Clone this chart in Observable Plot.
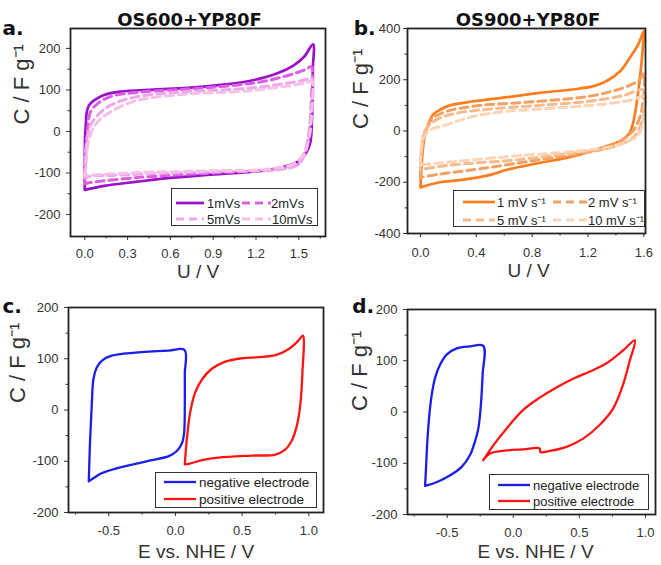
<!DOCTYPE html>
<html><head><meta charset="utf-8">
<script src="https://cdn.jsdelivr.net/npm/d3@7"></script>
<script src="https://cdn.jsdelivr.net/npm/@observablehq/plot@0.6"></script>
<style>
html,body{margin:0;padding:0;background:#fff;}
#root{position:relative;width:661px;height:565px;overflow:hidden;font-family:"Liberation Sans",Arial,sans-serif;}
.panel{position:absolute;}
.legend{position:absolute;border:1.5px solid #333;background:#fff;box-sizing:border-box;}
.li{position:absolute;height:16px;display:flex;align-items:center;white-space:nowrap;font-size:13px;color:#222;}
.li svg{position:absolute;left:0;top:4px;overflow:visible;}
</style></head><body><div id="root"></div>
<script>
// ---------- DATA ----------
// Panel a: OS600+YP80F, U (V) vs C (F/g)
const a1 = [[0,-141],[0,-60],[0.002,-17],[0.008,20],[0.014,47],[0.03,63],[0.065,75],[0.135,88],[0.25,96],[0.486,101],[0.72,105],[0.953,112],[1.187,124],[1.35,140],[1.467,160],[1.537,180],[1.6,210],
  [1.598,150],[1.596,88],[1.59,10],[1.579,-29],[1.549,-53],[1.49,-73],[1.397,-85],[1.3,-92],[1.07,-100],[0.836,-105],[0.6,-112],[0.369,-121],[0.135,-131],[0,-141]];
const a2 = [[0,-126],[0.005,-60],[0.02,7],[0.04,47],[0.09,67],[0.18,84],[0.37,94],[0.72,102],[1.07,112],[1.3,124],[1.54,148],[1.59,156],
  [1.59,90],[1.575,7],[1.55,-41],[1.52,-66],[1.49,-81],[1.4,-88],[1.3,-93],[0.836,-101],[0.369,-111],[0.04,-123],[0,-126]];
const a5 = [[0,-112],[0.01,-33],[0.04,15],[0.09,39],[0.18,63],[0.37,84],[0.72,96],[1.07,102],[1.3,110],[1.54,124],[1.59,129],
  [1.588,47],[1.57,-10],[1.54,-57],[1.49,-81],[1.4,-90],[1.3,-94],[1.07,-96],[0.6,-100],[0.25,-105],[0.04,-108],[0,-112]];
const a10 = [[0,-106],[0.007,-89],[0.03,-17],[0.09,23],[0.2,51],[0.37,75],[0.72,90],[1.07,96],[1.3,104],[1.54,116],[1.59,120],
  [1.59,47],[1.575,-10],[1.54,-49],[1.47,-77],[1.3,-90],[0.836,-95],[0.369,-99],[0.04,-105],[0,-106]];
const aNames = ["1mVs","2mVs","5mVs","10mVs"];

// Panel b: OS900+YP80F
const b1 = [[0,-220],[0.007,-145],[0.024,-40],[0.055,25],[0.09,64],[0.14,83],[0.21,100],[0.38,116],[0.62,132],[0.85,149],[1.09,162],[1.24,175],[1.33,194],[1.43,233],[1.5,286],[1.56,338],[1.6,390],
  [1.595,338],[1.572,207],[1.547,103],[1.52,25],[1.49,-14],[1.43,-40],[1.33,-60],[1.09,-99],[0.85,-125],[0.62,-151],[0.5,-171],[0.38,-184],[0.26,-193],[0.14,-200],[0,-220]];
const b2 = [[0,-181],[0.005,-100],[0.02,-40],[0.043,12],[0.09,51],[0.19,77],[0.38,97],[0.85,116],[1.21,136],[1.45,168],[1.57,200],[1.6,225],
  [1.6,140],[1.57,51],[1.52,-1],[1.43,-40],[1.33,-67],[1.09,-93],[0.85,-112],[0.62,-132],[0.38,-151],[0.14,-168],[0,-181]];
const b5 = [[0,-151],[0.01,-60],[0.03,0],[0.067,25],[0.14,51],[0.26,70],[0.5,86],[0.85,100],[1.21,116],[1.45,138],[1.6,160],
  [1.6,77],[1.57,12],[1.52,-27],[1.43,-53],[1.33,-69],[1.09,-86],[0.85,-103],[0.62,-116],[0.38,-125],[0.14,-138],[0,-151]];
const b10 = [[0,-132],[0.01,-50],[0.055,-1],[0.19,25],[0.38,57],[0.62,77],[0.97,90],[1.33,106],[1.52,122],[1.6,135],
  [1.6,64],[1.585,12],[1.55,-21],[1.45,-47],[1.33,-64],[1.09,-80],[0.74,-95],[0.38,-112],[0.14,-125],[0,-132]];
const bNames = ["1 mV s\u207B\u00B9","2 mV s\u207B\u00B9","5 mV s\u207B\u00B9","10 mV s\u207B\u00B9"];

// Panel c: E vs NHE
const cNeg = [[-0.65,-139],[-0.64,-58],[-0.628,8],[-0.615,60],[-0.59,83],[-0.553,96],[-0.478,106],[-0.3,112],[-0.05,116],[0.068,117],
  [0.07,70],[0.07,8],[0.065,-44],[0.05,-64],[0.01,-80],[-0.05,-90],[-0.18,-98],[-0.3,-105],[-0.43,-113],[-0.55,-123],[-0.615,-133],[-0.65,-139]];
const cPos = [[0.07,-106],[0.085,-58],[0.11,-5],[0.1475,34],[0.2,60],[0.27,80],[0.37,94],[0.5,101],[0.62,103],[0.75,107],[0.85,119],[0.92,135],[0.955,145],
  [0.952,73],[0.935,8],[0.91,-31],[0.87,-61],[0.82,-78],[0.75,-87],[0.57,-89],[0.32,-93],[0.2,-98],[0.1,-105],[0.07,-106]];
// Panel d
const dNeg = [[-0.667,-144],[-0.66,-110],[-0.65,-58],[-0.635,-6],[-0.617,33],[-0.592,66],[-0.554,92],[-0.504,112],[-0.428,124],[-0.327,128],[-0.227,129],
  [-0.232,73],[-0.247,7],[-0.264,-32],[-0.29,-58],[-0.327,-84],[-0.39,-107],[-0.48,-124],[-0.58,-137],[-0.667,-144]];
const dPos = [[-0.227,-94],[-0.151,-65],[-0.05,-32],[0.0756,4],[0.2,28],[0.327,48],[0.453,65],[0.58,79],[0.705,95],[0.83,120],[0.92,140],
  [0.88,99],[0.83,53],[0.756,7],[0.655,-25],[0.529,-52],[0.403,-68],[0.277,-76],[0.205,-78],[0.2,-71],[0.0756,-73],[-0.05,-75],[-0.176,-81],[-0.227,-94]];
const elecNames = ["negative electrode","positive electrode"];

// Ticks
const aXMajor = [0,0.3,0.6,0.9,1.2,1.5], aXMinor = [0.15,0.45,0.75,1.05,1.35,1.65];
const aYMajor = [-200,-100,0,100,200], aYMinor = [-150,-50,50,150];
const bXMajor = [0,0.4,0.8,1.2,1.6], bXMinor = [0.2,0.6,1.0,1.4];
const bYMajor = [-400,-200,0,200,400], bYMinor = [-300,-100,100,300];
const cXMajor = [-0.5,0,0.5,1.0], cXMinor = [-0.75,-0.25,0.25,0.75];
const cYMajor = [-200,-100,0,100,200], cYMinor = [-150,-50,50,150];

// Texts
const titles = ["OS600+YP80F","OS900+YP80F"];
const letters = ["a.","b.","c.","d."];
const yTitle = "C / F g\u207B\u00B9";
const xTitles = ["U / V","E vs. NHE / V"];

// ---------- RENDER ----------
const root = d3.select("#root");
const fx = d => d.toFixed(1);
const fy = d => String(d);

function panel(cfg) {
  const marks = [
    Plot.axisX({ticks: cfg.xMajor, tickSize: 4, tickPadding: cfg.xPad, tickFormat: fx, label: null, fontSize: 13}),
    Plot.axisX({ticks: cfg.xMinor, tickSize: 2.5, tickFormat: () => "", label: null}),
    Plot.axisY({ticks: cfg.yMajor, tickSize: 4, tickPadding: cfg.yPad, tickFormat: fy, label: null, fontSize: 13}),
    Plot.axisY({ticks: cfg.yMinor, tickSize: 2.5, tickFormat: () => "", label: null}),
  ];
  cfg.series.forEach(s => {
    marks.push(Plot.line(s.data, {x: d => d[0], y: d => d[1], stroke: s.color, strokeWidth: s.width,
      strokeDasharray: s.dash || null, curve: "catmull-rom", strokeLinejoin: "round"}));
  });
  marks.push(Plot.frame({stroke: "#222", strokeWidth: 1.8}));
  if (cfg.title) marks.push(Plot.text([cfg.title], {text: d => d, frameAnchor: "top", dx: cfg.tdx, dy: -15.5,
      fontSize: 18, fontWeight: "bold", fontFamily: "DejaVu Sans", fill: "#111"}));
  marks.push(Plot.text([cfg.letter], {text: d => d, frameAnchor: "top-left", textAnchor: "start", dx: cfg.ldx, dy: cfg.ldy,
      fontSize: 20, fontWeight: "bold", fontFamily: "DejaVu Sans", fill: "#111"}));
  marks.push(Plot.text([cfg.xTitle], {text: d => d, frameAnchor: "bottom", dx: cfg.xtdx, dy: cfg.xtdy, fontSize: cfg.xtSize, fill: "#333"}));
  marks.push(Plot.text([yTitle], {text: d => d, frameAnchor: "left", rotate: -90, dx: cfg.ytdx, dy: cfg.ytdy, fontSize: 22, fill: "#333"}));

  const svg = Plot.plot({
    width: cfg.w, height: cfg.h,
    marginLeft: cfg.ml, marginRight: cfg.mr, marginTop: cfg.mt, marginBottom: cfg.mb,
    x: {domain: cfg.xDomain}, y: {domain: cfg.yDomain},
    style: {fontFamily: "'Liberation Sans', Arial, sans-serif", fontSize: "13px", color: "#333", background: "transparent", overflow: "visible"},
    marks
  });
  const div = root.append("div").attr("class", "panel").style("left", cfg.left + "px").style("top", cfg.top + "px");
  div.node().appendChild(svg);

  // legend
  const lg = root.append("div").attr("class", "legend")
    .style("left", cfg.legend.x + "px").style("top", cfg.legend.y + "px")
    .style("width", cfg.legend.w + "px").style("height", cfg.legend.h + "px");
  cfg.legend.items.forEach((it, i) => {
    const s = cfg.series[i];
    const item = lg.append("div").attr("class", "li")
      .style("left", it.lx + "px").style("top", (it.ry - 8) + "px");
    const sv = item.append("svg").attr("width", it.len).attr("height", 8);
    sv.append("line").attr("x1", 0).attr("x2", it.len).attr("y1", 4).attr("y2", 4)
      .attr("stroke", s.color).attr("stroke-width", s.width).attr("stroke-dasharray", s.dash || null);
    item.append("span").style("position", "absolute").style("left", (it.tx - it.lx) + "px").style("font-size", cfg.legend.fs + "px")
      .text(it.name);
  });
}

const dashA = "8 5";
panel({
  left: 0, top: 0, w: 330, h: 290, ml: 70, mr: 5, mt: 28, mb: 54,
  xDomain: [-0.1, 1.687], yDomain: [-253, 248],
  xMajor: aXMajor, xMinor: aXMinor, yMajor: aYMajor, yMinor: aYMinor, xPad: 8.5, yPad: 6,
  series: [
    {data: a1, color: "#9b10c9", width: 2.7},
    {data: a2, color: "#dc5ee4", width: 3, dash: dashA},
    {data: a5, color: "#eea6f0", width: 3, dash: dashA},
    {data: a10, color: "#f6c0e6", width: 3, dash: dashA}
  ],
  title: titles[0], tdx: -8.5, letter: letters[0], ldx: -68, ldy: -7.4,
  xTitle: xTitles[0], xtdx: 0, xtdy: 41.2, xtSize: 19, ytdx: -48.4, ytdy: -8,
  legend: {x: 171, y: 188, w: 147, h: 38, fs: 13, items: [
    {name: aNames[0], lx: 4, len: 28, tx: 35, ry: 14},
    {name: aNames[1], lx: 70, len: 29, tx: 99, ry: 14},
    {name: aNames[2], lx: 4, len: 28, tx: 35, ry: 30},
    {name: aNames[3], lx: 70, len: 29, tx: 100, ry: 30}
  ]}
});
panel({
  left: 330, top: 0, w: 331, h: 290, ml: 77, mr: 16, mt: 28, mb: 57,
  xDomain: [-0.093, 1.612], yDomain: [-400, 400],
  xMajor: bXMajor, xMinor: bXMinor, yMajor: bYMajor, yMinor: bYMinor, xPad: 10, yPad: 3,
  series: [
    {data: b1, color: "#fb7d1e", width: 2.7},
    {data: b2, color: "#f4a062", width: 3, dash: dashA},
    {data: b5, color: "#f7ba8c", width: 3, dash: dashA},
    {data: b10, color: "#fbd4b6", width: 3, dash: dashA}
  ],
  title: titles[1], tdx: 1.5, letter: letters[1], ldx: -53.7, ldy: -7.7,
  xTitle: xTitles[0], xtdx: 2, xtdy: 43.9, xtSize: 19, ytdx: -47, ytdy: -2,
  legend: {x: 453, y: 190, w: 192, h: 37, fs: 13, items: [
    {name: bNames[0], lx: 9, len: 32, tx: 43, ry: 11},
    {name: bNames[1], lx: 99, len: 34, tx: 134, ry: 11},
    {name: bNames[2], lx: 9, len: 32, tx: 43, ry: 29},
    {name: bNames[3], lx: 99, len: 34, tx: 134, ry: 29}
  ]}
});
panel({
  left: 0, top: 285, w: 330, h: 280, ml: 68, mr: 7, mt: 22, mb: 53,
  xDomain: [-0.802, 1.11], yDomain: [-200, 200],
  xMajor: cXMajor, xMinor: cXMinor, yMajor: cYMajor, yMinor: cYMinor, xPad: 9.5, yPad: 6,
  series: [
    {data: cNeg, color: "#1a1ee6", width: 2.3},
    {data: cPos, color: "#ff1414", width: 2.3}
  ],
  title: null, letter: letters[2], ldx: -66, ldy: -8.4,
  xTitle: xTitles[1], xtdx: 0, xtdy: 45.5, xtSize: 19, ytdx: -50.4, ytdy: -7,
  legend: {x: 155, y: 472, w: 162, h: 36, fs: 13.5, items: [
    {name: elecNames[0], lx: 8, len: 32, tx: 43, ry: 9},
    {name: elecNames[1], lx: 8, len: 32, tx: 43, ry: 26}
  ]}
});
panel({
  left: 330, top: 285, w: 331, h: 280, ml: 77, mr: 6, mt: 24, mb: 51,
  xDomain: [-0.80, 1.076], yDomain: [-200, 200],
  xMajor: cXMajor, xMinor: cXMinor, yMajor: cYMajor, yMinor: cYMinor, xPad: 9, yPad: 6,
  series: [
    {data: dNeg, color: "#1a1ee6", width: 2.3},
    {data: dPos, color: "#ff1414", width: 2.3}
  ],
  title: null, letter: letters[3], ldx: -55.3, ldy: -10.4,
  xTitle: xTitles[1], xtdx: 4, xtdy: 43.5, xtSize: 19, ytdx: -47.4, ytdy: -1,
  legend: {x: 489, y: 474, w: 160, h: 36, fs: 13, items: [
    {name: elecNames[0], lx: 8, len: 32, tx: 43, ry: 10},
    {name: elecNames[1], lx: 8, len: 32, tx: 43, ry: 26}
  ]}
});
</script></body></html>
